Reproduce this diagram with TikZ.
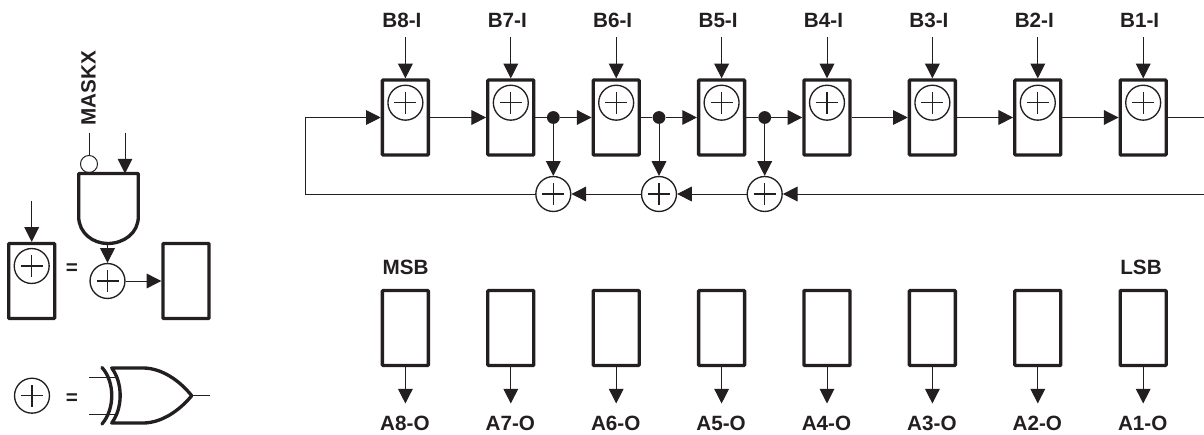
\documentclass[tikz,border=0pt]{standalone}
\usepackage{fontspec}
\setmainfont{Liberation Sans}
\usetikzlibrary{arrows.meta}
\definecolor{ink}{HTML}{231F20}
\tikzset{
  lab/.style={font=\fontsize{15.5}{15.5}\selectfont\bfseries, inner sep=0pt},
  reg/.style={draw, line width=2.5pt, rounded corners=0.6pt, minimum width=34.5pt, minimum height=56.2pt, inner sep=0pt},
  xorc/.style={circle, draw, line width=1pt, minimum size=26.2pt, inner sep=0pt,
    path picture={\draw[line width=1pt] ([xshift=-8.25pt]path picture bounding box.center) -- ([xshift=8.25pt]path picture bounding box.center)
      ([yshift=-8.25pt]path picture bounding box.center) -- ([yshift=8.25pt]path picture bounding box.center);}},
  sig/.style={line width=0.75pt, -{Triangle[length=11pt, width=11pt]}},
  wire/.style={line width=0.75pt},
  gate/.style={line width=2.5pt, line join=round},
  dotn/.style={circle, fill, minimum size=9.6pt, inner sep=0pt},
  bubble/.style={circle, draw, line width=0.75pt, minimum size=12.8pt, inner sep=0pt}
}
\begin{document}
\begin{tikzpicture}[x=0.75pt, y=-0.75pt, color=ink]
  \useasboundingbox (0,0) rectangle (1204,435);
  % register rows
  \foreach \i [evaluate=\i as \px using {405.4+(8-\i)*105.4}] in {8,...,1} {
    \node[reg] (r\i) at (\px,117.5) {};
    \node[xorc] (x\i) at (\px,102.7) {};
    \node[lab] (b\i) at (\px-3.5,20) {B\i-I};
    \coordinate (t\i) at (\px,37);
    \draw[sig] (t\i) -- (r\i.north);
    \node[reg] (q\i) at (\px,328) {};
    \node[lab] (a\i) at (\px-0.5,423.5) {A\i-O};
    \coordinate (e\i) at (\px,403.5);
    \draw[sig] (q\i.south) -- (e\i);
  }
  \node[lab] (msb) at (405.7,267.7) {MSB};
  \node[lab] (lsb) at (1141,267.7) {LSB};
  \foreach \i/\j in {8/7,4/3,3/2,2/1}
    \draw[sig] (r\i.east) -- (r\j.west);
  % feedback taps
  \foreach \i/\j/\px in {7/6/553.3,6/5/659,5/4/764.7} {
    \node[dotn] (d\i) at (\px,117.5) {};
    \node[xorc] (f\i) at (\px,194) {};
    \draw[wire] (r\i.east) -- (d\i);
    \draw[sig] (d\i) -- (r\j.west);
    \draw[sig] (d\i) -- (f\i.north);
  }
  \coordinate (outr) at (1204,117.5);
  \coordinate (inr) at (1204,194);
  \coordinate (cl) at (305,194);
  \coordinate (ct) at (305,117.5);
  \draw[wire] (r1.east) -- (outr);
  \draw[sig] (inr) -- (f5.east);
  \draw[sig] (f5.west) -- (f6.east);
  \draw[sig] (f6.west) -- (f7.east);
  \draw[sig] (f7.west) -- (cl) -- (ct) -- (r8.west);
  % equivalent cell
  \node[reg] (cella) at (31.7,281) {};
  \node[xorc] (xa) at (31.7,266) {};
  \coordinate (ta) at (31.7,200.7);
  \draw[sig] (ta) -- (cella.north);
  \node[lab] (eqa) at (72,269) {=};
  \node[xorc] (xb) at (107.5,281) {};
  \node[reg] (cellb) at (186,281) {};
  \draw[sig] (xb.east) -- (cellb.west);
  \coordinate (andin) at (125,173.5);
  \coordinate (andout) at (107.5,243.5);
  \draw[gate] (78.7,216.7) -- (78.7,173.5) -- (138.3,173.5) -- (138.3,216.7)
    .. controls (138.3,233) and (124,243.5) .. (andout)
    .. controls (93,243.5) and (78.7,233) .. (78.7,216.7);
  \node[bubble] (inv) at (89,164) {};
  \node[lab, rotate=90] (maskx) at (88.5,88.3) {MASKX};
  \coordinate (minv) at (89,132.7);
  \coordinate (tand) at (125,132.7);
  \draw[wire] (minv) -- (inv.north);
  \draw[sig] (tand) -- (andin);
  \draw[sig] (andout) -- (xb.north);
  % xor symbol
  \node[xorc] (xc) at (32,395.7) {};
  \node[lab] (eqb) at (72,399) {=};
  \coordinate (ia) at (89,377.7);
  \coordinate (ib) at (89,414);
  \coordinate (ea) at (116.5,377.7);
  \coordinate (eb) at (116.5,414);
  \coordinate (tip) at (191.7,395.7);
  \coordinate (oc) at (210,395.7);
  \draw[wire] (ia) -- (ea);
  \draw[wire] (ib) -- (eb);
  \draw[wire] (tip) -- (oc);
  \draw[gate] (111.7,368) .. controls (123,383) and (123,408) .. (111.7,423)
    -- (143,423) .. controls (162,423) and (180,410) .. (tip)
    .. controls (180,381) and (162,368) .. (143,368) -- cycle;
  \draw[gate, line cap=round] (102,367.5) .. controls (115,382) and (115,409) .. (102,424);
\end{tikzpicture}
\end{document}
